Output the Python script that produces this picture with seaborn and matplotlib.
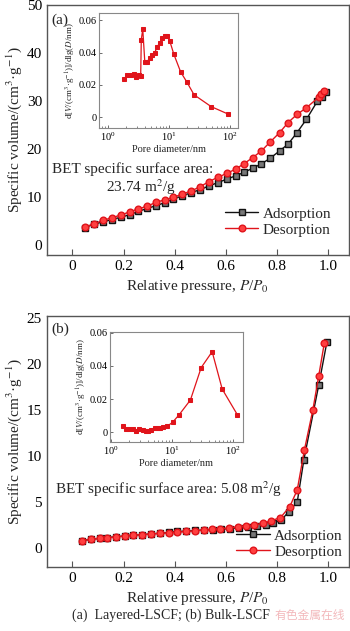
import numpy as np
import pandas as pd
import seaborn as sns
import matplotlib.pyplot as plt

# --- data ---
# (a) Layered-LSCF isotherm
p_ads_a = [0.047, 0.083, 0.118, 0.155, 0.19, 0.223, 0.257, 0.292, 0.327, 0.36,
           0.393, 0.428, 0.464, 0.497, 0.533, 0.568, 0.602, 0.637, 0.669, 0.704,
           0.738, 0.773, 0.809, 0.842, 0.877, 0.914, 0.956, 0.975, 0.99]
v_ads_a = [3.6, 4.3, 4.8, 5.3, 5.8, 6.3, 7.0, 7.6, 8.2, 8.8,
           9.6, 10.2, 10.9, 11.5, 12.3, 13.0, 13.7, 14.4, 15.1, 16.0,
           16.9, 18.1, 19.6, 21.0, 23.4, 26.2, 29.9, 30.9, 31.9]
p_des_a = [0.047, 0.083, 0.118, 0.155, 0.19, 0.223, 0.257, 0.292, 0.327, 0.36,
           0.393, 0.428, 0.464, 0.497, 0.533, 0.568, 0.602, 0.637, 0.669, 0.704,
           0.738, 0.773, 0.809, 0.842, 0.877, 0.914, 0.962, 0.971, 0.984]
v_des_a = [3.7, 4.4, 5.1, 5.7, 6.25, 6.9, 7.5, 8.1, 8.9, 9.4,
           9.9, 10.6, 11.25, 12.1, 13.2, 14.1, 14.9, 15.8, 16.9, 18.2,
           19.6, 21.5, 23.4, 25.5, 27.2, 28.6, 30.8, 31.5, 32.1]

# (a) pore size distribution
d_a = [1.82, 2.06, 2.4, 2.65, 2.9, 3.17, 3.42, 3.5, 3.7, 4.0, 4.36, 4.82, 5.27,
       5.83, 6.38, 7.05, 7.7, 8.5, 9.3, 10.3, 12.0, 15.5, 19.5, 25.7, 49, 91.5]
dv_a = [0.0236, 0.0259, 0.0259, 0.0267, 0.0247, 0.0259, 0.0253, 0.048, 0.0545,
        0.034, 0.034, 0.0368, 0.0384, 0.040, 0.0435, 0.046, 0.0489, 0.0505,
        0.0505, 0.0469, 0.0388, 0.0279, 0.0218, 0.0138, 0.0065, 0.002]

# (b) Bulk-LSCF isotherm
p_ads_b = [0.039, 0.074, 0.108, 0.136, 0.17, 0.204, 0.237, 0.271, 0.306, 0.341,
           0.376, 0.41, 0.445, 0.48, 0.515, 0.55, 0.58, 0.615, 0.65, 0.685,
           0.72, 0.755, 0.785, 0.815, 0.845, 0.878, 0.904, 0.962, 0.994]
v_ads_b = [0.8, 0.95, 1.05, 1.12, 1.22, 1.3, 1.38, 1.45, 1.52, 1.6,
           1.68, 1.8, 1.82, 1.9, 1.95, 2.0, 2.05, 2.1, 2.2, 2.3,
           2.4, 2.5, 2.7, 3.0, 3.95, 5.0, 9.6, 17.7, 22.4]
p_des_b = [0.039, 0.074, 0.108, 0.136, 0.17, 0.204, 0.237, 0.271, 0.306, 0.341,
           0.376, 0.41, 0.445, 0.48, 0.513, 0.546, 0.578, 0.61, 0.646, 0.678,
           0.71, 0.744, 0.777, 0.8125, 0.849, 0.878, 0.906, 0.939, 0.962, 0.984]
v_des_b = [0.8, 0.95, 1.05, 1.1, 1.2, 1.3, 1.4, 1.45, 1.5, 1.6,
           1.65, 1.7, 1.8, 1.85, 1.96, 2.03, 2.1, 2.17, 2.32, 2.39,
           2.5, 2.68, 2.97, 3.3, 4.5, 6.3, 10.65, 15.0, 18.7, 22.3]

# (b) pore size distribution
d_b = [1.55, 1.75, 2.0, 2.26, 2.57, 2.92, 3.3, 3.74, 4.1, 4.5, 5.35, 5.8, 6.45,
       7.06, 8.3, 10.3, 13.2, 20.1, 30.2, 45.7, 66.8, 118]
dv_b = [0.0034, 0.002, 0.002, 0.002, 0.0006, 0.002, 0.0014, 0.0006, 0.0006,
        0.0014, 0.0024, 0.0024, 0.0026, 0.003, 0.0034, 0.006, 0.0106, 0.0194,
        0.039, 0.0486, 0.026, 0.0106]

x_ticks = [0, 0.2, 0.4, 0.6, 0.8, 1.0]
x_labels = ["0", "0.2", "0.4", "0.6", "0.8", "1.0"]
y_ticks_a = [0, 10, 20, 30, 40, 50]
y_ticks_b = [0, 5, 10, 15, 20, 25]
inset_y_ticks = [0, 0.02, 0.04, 0.06]
inset_y_labels = ["0", "0.02", "0.04", "0.06"]

sns.set_theme(style="ticks")
plt.rcParams["font.family"] = ["Liberation Serif", "Noto Sans CJK SC", "DejaVu Sans"]
plt.rcParams["mathtext.fontset"] = "stix"
plt.rcParams["axes.edgecolor"] = "#555555"
plt.rcParams["xtick.color"] = "#555555"
plt.rcParams["ytick.color"] = "#555555"
plt.rcParams["xtick.labelcolor"] = "black"
plt.rcParams["ytick.labelcolor"] = "black"

BLACK = "#111111"
RED = "#e0141b"

fig = plt.figure(figsize=(3.5, 6.31), dpi=100)
ax_a = fig.add_axes([0.134, 0.596, 0.863, 0.396])
ax_b = fig.add_axes([0.134, 0.1014, 0.863, 0.3978])
in_a = fig.add_axes([0.283, 0.797, 0.397, 0.182])
in_b = fig.add_axes([0.314, 0.2995, 0.38, 0.1743])


def iso(ax, pa, va, pd_, vd, anchor):
    sns.lineplot(x=pa, y=va, ax=ax, color=BLACK, lw=1.0, marker="s", ms=4.3,
                 mfc="#777777", mec=BLACK, mew=1.0, label="Adsorption")
    sns.lineplot(x=pd_, y=vd, ax=ax, color=RED, lw=1.0, marker="o", ms=4.8,
                 mfc="#ff4040", mec=RED, mew=1.0, label="Desorption")
    ax.set_xlim(-0.1, 1.08)
    ax.set_xticks(x_ticks)
    ax.set_xticklabels(x_labels)
    ax.set_xlabel("Relative pressure, $P$/$P_0$", fontsize=11, labelpad=4)
    ax.set_ylabel("Specific volume/(cm$^3$·g$^{-1}$)", fontsize=11, labelpad=2)
    ax.tick_params(direction="in", length=4, width=0.8, labelsize=11)
    ax.tick_params(axis="y", length=0)
    for s in ax.spines.values():
        s.set_linewidth(1.0)
    ax.legend(loc="lower right", bbox_to_anchor=anchor, frameon=False,
              fontsize=11, handlelength=2.2, handletextpad=0.3,
              borderaxespad=0.4, labelspacing=0.15)


def psd(ax, d, dv, xlim):
    sns.lineplot(x=d, y=dv, ax=ax, color=RED, lw=0.9, marker="s", ms=2.6,
                 mfc=RED, mec=RED)
    ax.set_xscale("log")
    ax.set_xlim(*xlim)
    ax.set_xticks([1, 10, 100])
    ax.set_yticks(inset_y_ticks)
    ax.set_yticklabels(inset_y_labels)
    ax.set_xlabel("Pore diameter/nm", fontsize=7.5, labelpad=1)
    ax.set_ylabel("d[$V$/(cm$^3$·g$^{-1}$)]/dlg($D$/nm)", fontsize=6.5, labelpad=0.5)
    ax.tick_params(direction="in", length=2.5, width=0.6, labelsize=7.5, pad=2)
    ax.tick_params(axis="y", pad=1.5)
    ax.tick_params(which="minor", direction="in", length=1.5, width=0.5)
    for s in ax.spines.values():
        s.set_linewidth(0.8)
        s.set_edgecolor("#888888")


iso(ax_a, p_ads_a, v_ads_a, p_des_a, v_des_a, (0.983, 0.024))
ax_a.set_ylim(-2.08, 50)
ax_a.set_yticks(y_ticks_a)
ax_a.text(0.015, 0.965, "(a)", transform=ax_a.transAxes, fontsize=11, va="top")
ax_a.text(0.017, 0.328, "BET specific surface area:", transform=ax_a.transAxes,
          fontsize=11)
ax_a.text(0.31, 0.252, "23.74 m$^2$/g", transform=ax_a.transAxes, fontsize=11,
          ha="center", va="baseline")

iso(ax_b, p_ads_b, v_ads_b, p_des_b, v_des_b, (1.02, -0.016))
ax_b.set_ylim(-2.07, 25.2)
ax_b.set_yticks(y_ticks_b)
ax_b.text(0.015, 0.975, "(b)", transform=ax_b.transAxes, fontsize=11, va="top")
ax_b.text(0.027, 0.29, "BET specific surface area: 5.08 m$^2$/g",
          transform=ax_b.transAxes, fontsize=11)

psd(in_a, d_a, dv_a, (0.71, 135))
in_a.set_ylim(-0.0068, 0.0643)
psd(in_b, d_b, dv_b, (0.96, 146))
in_b.set_ylim(-0.006, 0.0605)

fig.text(0.487, 0.014, "(a)  Layered-LSCF; (b) Bulk-LSCF", fontsize=10,
         ha="center", va="bottom")
fig.text(0.985, 0.014, "有色金属在线", fontsize=8.5, ha="right", va="bottom",
         color="#f3b9bc", family=["Noto Sans CJK SC", "DejaVu Sans"])

fig.savefig("out.png", dpi=100)
